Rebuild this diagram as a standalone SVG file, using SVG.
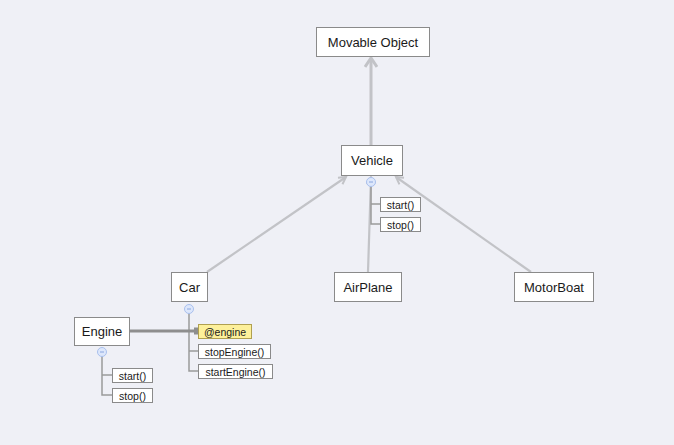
<svg xmlns="http://www.w3.org/2000/svg" width="674" height="445" viewBox="0 0 674 445">
<defs>
<style>
.bg{fill:#eff0f6}
.node{fill:#ffffff;stroke:#8a8a8a;stroke-width:1}
.leaf{fill:#ffffff;stroke:#8a8a8a;stroke-width:1}
.attr{fill:#fdf09a;stroke:#b0a050;stroke-width:1}
.t{font-family:"Liberation Sans",Arial,sans-serif;font-size:13px;fill:#1a1a1a;text-anchor:middle}
.s{font-family:"Liberation Sans",Arial,sans-serif;font-size:10.5px;fill:#1a1a1a;text-anchor:middle}
.inh{stroke:#c2c3c7;stroke-width:2.2;fill:none}
.inh2{stroke:#c2c3c7;stroke-width:3;fill:none}
.tree{stroke:#9a9a9a;stroke-width:1.5;fill:none}
.tog{fill:#dde7fb;stroke:#a9c0ee;stroke-width:1}
.togl{stroke:#8aa6e0;stroke-width:1}
.assoc{stroke:#8e8e8e;stroke-width:3;fill:none}
</style>
<marker id="arr" markerWidth="10" markerHeight="10" refX="8" refY="5" orient="auto" markerUnits="userSpaceOnUse">
<path d="M1,1 L8,5 L1,9" fill="none" stroke="#c2c3c7" stroke-width="2"/>
</marker>
<marker id="arrb" markerWidth="14" markerHeight="14" refX="11" refY="7" orient="auto" markerUnits="userSpaceOnUse">
<path d="M2,1 L11,7 L2,13" fill="none" stroke="#c2c3c7" stroke-width="3"/>
</marker>
</defs>
<rect class="bg" x="0" y="0" width="674" height="445"/>
<g id="connectors">
<line class="inh2" x1="371" y1="145" x2="371" y2="58" marker-end="url(#arrb)"/>
<line class="inh" x1="207" y1="272" x2="346" y2="177" marker-end="url(#arr)"/>
<line class="inh" x1="368" y1="272" x2="371" y2="177" marker-end="url(#arr)"/>
<line class="inh" x1="531" y1="272" x2="396" y2="177" marker-end="url(#arr)"/>
<path class="tree" d="M371,186 V224 H380 M371,204 H380"/>
<path class="tree" d="M189,313 V371 H198 M189,331 H198 M189,351 H198"/>
<path class="tree" d="M102,356 V395 H112 M102,375 H112"/>
<line class="assoc" x1="129" y1="331" x2="196" y2="331"/>
<rect x="194" y="327.5" width="7" height="7" fill="#8e8e8e"/>
</g>
<g id="movable-object">
<rect class="node" x="316.5" y="27.5" width="113" height="29"/>
<text class="t" x="373" y="46.5">Movable Object</text>
</g>
<g id="vehicle">
<rect class="node" x="341.5" y="145.5" width="61" height="30"/>
<text class="t" x="372" y="165">Vehicle</text>
<circle class="tog" cx="371" cy="182" r="4.5"/>
<line class="togl" x1="369" y1="182" x2="373" y2="182"/>
<rect class="leaf" x="380.5" y="197.5" width="40" height="14"/>
<text class="s" x="400.5" y="208.5">start()</text>
<rect class="leaf" x="380.5" y="217.5" width="40" height="14"/>
<text class="s" x="400.5" y="228.5">stop()</text>
</g>
<g id="car">
<rect class="node" x="171.5" y="272.5" width="36" height="29"/>
<text class="t" x="189.5" y="292">Car</text>
<circle class="tog" cx="189" cy="309" r="4.5"/>
<line class="togl" x1="187" y1="309" x2="191" y2="309"/>
<rect class="attr" x="198.5" y="324.5" width="53" height="14"/>
<text class="s" x="225" y="335.5">@engine</text>
<rect class="leaf" x="198.5" y="344.5" width="72" height="14"/>
<text class="s" x="234.5" y="355.5">stopEngine()</text>
<rect class="leaf" x="198.5" y="364.5" width="74" height="14"/>
<text class="s" x="235.5" y="375.5">startEngine()</text>
</g>
<g id="airplane">
<rect class="node" x="334.5" y="272.5" width="67" height="29"/>
<text class="t" x="368" y="292">AirPlane</text>
</g>
<g id="motorboat">
<rect class="node" x="514.5" y="272.5" width="79" height="29"/>
<text class="t" x="554" y="292">MotorBoat</text>
</g>
<g id="engine">
<rect class="node" x="74.5" y="317.5" width="55" height="28"/>
<text class="t" x="102" y="336">Engine</text>
<circle class="tog" cx="102" cy="352" r="4.5"/>
<line class="togl" x1="100" y1="352" x2="104" y2="352"/>
<rect class="leaf" x="112.5" y="368.5" width="40" height="14"/>
<text class="s" x="132.5" y="379.5">start()</text>
<rect class="leaf" x="112.5" y="388.5" width="40" height="14"/>
<text class="s" x="132.5" y="399.5">stop()</text>
</g>
</svg>
